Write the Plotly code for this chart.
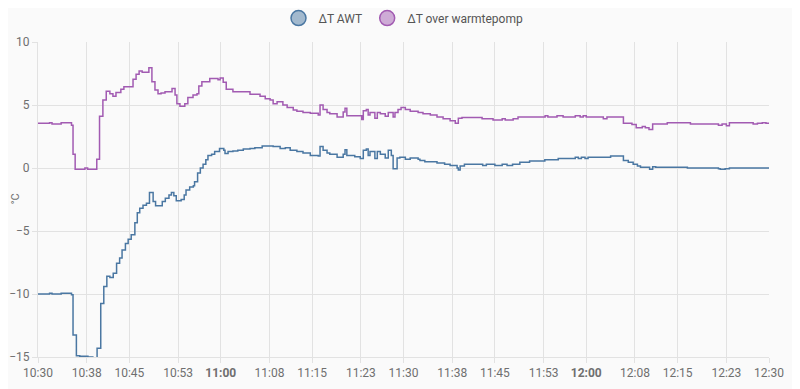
import pandas as pd
import plotly.graph_objects as go

start = pd.Timestamp("2024-01-01 10:30:00")

# minutes after 10:30 and values (°C)
awt_min = [0, 1.9, 2.3, 3.8, 5.5, 5.75, 6.3, 6.85, 8.2, 9.0, 9.7, 10.3, 10.8, 11.3, 11.8,
           12.35, 12.9, 13.4, 13.8, 14.35, 14.8, 15.3, 15.9, 16.3, 16.7, 17.24, 17.8, 18.3,
           18.9, 19.3, 20.4, 20.9, 21.5, 21.9, 22.3, 22.7, 23.5, 24.0, 24.3, 24.9, 25.5,
           25.7, 26.2, 26.65, 27.1, 27.55, 27.9, 28.5, 29.0, 29.8, 30.5, 30.7, 31.2, 32.0,
           32.8, 33.7, 34.8, 35.6, 36.8, 38.6, 39.75, 40.6, 41.4, 42.5, 43.5, 44.7, 46.0,
           46.3, 46.8, 47.45, 47.9, 49.1, 50.1, 50.4, 50.7, 52.0, 52.9, 53.4, 53.9, 54.2,
           54.5, 55.3, 55.7, 56.2, 57.0, 57.5, 58.0, 58.3, 58.95, 59.4, 60.3, 61.1, 62.4,
           62.7, 63.5, 65.5, 66.75, 67.65, 68.8, 69.0, 69.3, 70.0, 73.0, 73.6, 75.0, 76.2,
           77.0, 77.9, 79.1, 80.7, 83.2, 85.4, 88.2, 88.7, 89.2, 89.8, 90.3, 94.0, 96.1,
           96.9, 97.7, 98.4, 98.9, 100.4, 100.9, 101.4, 106.6, 111.7, 112.0, 112.8, 113.5, 120]
awt_val = [-10.0, -9.95, -10.0, -9.95, -10.05, -13.25, -14.9, -14.95, -15.0, -15.05, -14.3,
           -10.75, -9.4, -8.6, -8.7, -8.35, -7.55, -7.15, -6.5, -6.0, -5.65, -5.3, -4.35,
           -3.55, -3.2, -2.95, -2.8, -1.95, -2.65, -3.0, -2.65, -2.4, -2.15, -1.95, -2.2,
           -2.6, -2.5, -2.15, -1.75, -1.5, -1.4, -1.1, -0.4, 0.0, 0.3, 0.65, 1.0, 1.1, 1.3,
           1.55, 1.4, 1.15, 1.3, 1.35, 1.4, 1.5, 1.55, 1.6, 1.75, 1.7, 1.55, 1.6, 1.4, 1.3,
           1.2, 1.0, 0.95, 1.7, 1.4, 1.2, 1.1, 0.85, 1.1, 1.45, 1.0, 0.9, 0.75, 1.4, 1.5,
           1.0, 1.3, 0.75, 1.3, 1.1, 0.8, 1.4, 1.0, -0.05, 0.8, 0.85, 0.7, 0.8, 0.7, 0.6,
           0.5, 0.4, 0.3, 0.2, 0.0, -0.15, 0.15, 0.3, 0.2, 0.3, 0.2, 0.3, 0.2, 0.3, 0.45,
           0.55, 0.65, 0.75, 0.85, 0.75, 0.85, 0.75, 0.85, 0.95, 0.6, 0.45, 0.3, 0.15, 0.05,
           -0.1, 0.1, 0.05, 0.0, -0.05, -0.1, -0.05, 0.0, 0.0]

wp_min = [0, 1.9, 2.3, 3.8, 5.5, 5.75, 6.1, 7.7, 8.15, 9.65, 10.1, 10.65, 11.2, 11.8, 12.3,
          12.8, 13.6, 14.1, 15.6, 16.1, 16.6, 17.1, 18.2, 18.7, 19.2, 19.7, 20.2, 20.85,
          22.0, 22.5, 22.8, 23.3, 24.1, 24.6, 25.45, 26.1, 26.4, 26.9, 28.2, 29.55, 29.9,
          30.4, 30.9, 32.0, 34.8, 36.45, 37.3, 38.1, 38.6, 39.25, 40.2, 40.9, 41.9, 42.5,
          43.5, 44.7, 46.0, 46.3, 46.8, 47.45, 47.9, 49.1, 50.1, 50.4, 50.7, 53.15, 53.4,
          53.9, 54.2, 54.5, 55.3, 55.7, 56.2, 57.0, 57.5, 58.3, 58.6, 59.1, 59.6, 60.3,
          61.1, 62.4, 63.2, 64.4, 65.5, 66.5, 67.65, 68.5, 69.0, 69.6, 72.9, 74.7, 76.2,
          76.7, 78.0, 78.8, 83.25, 83.7, 85.2, 86.2, 88.2, 89.0, 89.5, 90.0, 92.8, 93.4,
          96.1, 97.5, 98.2, 99.2, 99.7, 100.3, 100.9, 103.3, 107.1, 111.7, 112.3, 113.0,
          113.5, 117.4, 118.1, 118.9, 119.5, 120]
wp_val = [3.55, 3.6, 3.5, 3.6, 3.4, 1.1, -0.1, 0.0, -0.1, 0.7, 4.1, 5.4, 6.1, 5.9, 5.7, 6.0,
          6.25, 6.45, 7.05, 7.45, 7.7, 7.6, 7.95, 6.85, 6.2, 5.9, 5.95, 6.05, 6.3, 5.8, 5.1,
          4.9, 5.1, 5.6, 5.8, 5.9, 6.5, 6.85, 7.1, 7.0, 7.15, 6.8, 6.25, 6.05, 5.85, 5.7,
          5.5, 5.4, 5.1, 5.25, 5.0, 4.8, 4.6, 4.5, 4.4, 4.35, 4.2, 5.0, 4.65, 4.4, 4.3,
          4.05, 4.45, 4.75, 4.15, 3.85, 4.55, 4.65, 4.2, 4.4, 3.95, 4.4, 4.3, 4.1, 4.4,
          4.05, 4.4, 4.65, 4.8, 4.65, 4.5, 4.4, 4.3, 4.2, 4.05, 3.9, 3.75, 3.55, 3.95, 4.0,
          3.9, 3.8, 3.9, 3.8, 3.9, 4.05, 4.15, 4.05, 4.15, 4.05, 4.15, 4.05, 4.15, 4.05,
          3.9, 4.05, 3.55, 3.45, 3.2, 3.3, 3.2, 3.05, 3.5, 3.6, 3.5, 3.4, 3.5, 3.35, 3.6,
          3.5, 3.55, 3.6, 3.55, 3.6]

tick_times = ["10:30", "10:38", "10:45", "10:53", "11:00", "11:08", "11:15", "11:23", "11:30",
              "11:38", "11:45", "11:53", "12:00", "12:08", "12:15", "12:23", "12:30"]
bold_ticks = ["11:00", "12:00"]

series = [
    ("ΔT AWT", awt_min, awt_val, "#4a77a2", "rgba(74,119,162,0.5)"),
    ("ΔT over warmtepomp", wp_min, wp_val, "#a25bb2", "rgba(162,91,178,0.5)"),
]

fig = go.Figure()
for name, mins, vals, col, fill in series:
    xs = [start + pd.Timedelta(minutes=m) for m in mins]
    fig.add_trace(go.Scatter(x=xs, y=vals, mode="lines", line=dict(color=col, width=1.5, shape="hv"),
                             name=name, legendgroup=name, showlegend=False, hoverinfo="skip"))
    fig.add_trace(go.Scatter(x=[None], y=[None], mode="markers", name=name, legendgroup=name,
                             marker=dict(size=15, color=fill, line=dict(color=col, width=1.5))))

tickvals = [pd.Timestamp("2024-01-01 " + t + ":00") for t in tick_times]
ticktext = ["<b>%s</b>" % t if t in bold_ticks else t for t in tick_times]

grid = "#e2e2e2"
# the page body adds an 8px offset, so the figure is 8px smaller on each origin side
fig.update_layout(
    width=792, height=381,
    margin=dict(l=30, r=31, t=34, b=32, autoexpand=False),
    paper_bgcolor="#fafafa", plot_bgcolor="#fafafa",
    font=dict(family="Roboto", size=12, color="#6f6f6f"),
    legend=dict(orientation="h", x=0.5, xanchor="center", y=1.076, yanchor="middle",
                font=dict(size=12, color="#555555"), itemsizing="trace", bgcolor="rgba(0,0,0,0)"),
    xaxis=dict(range=[tickvals[0], tickvals[-1]], tickvals=tickvals, ticktext=ticktext,
               showgrid=True, gridcolor=grid, showline=True, linecolor=grid,
               ticks="outside", ticklen=5, tickcolor=grid, zeroline=False, fixedrange=True,
               automargin=False),
    yaxis=dict(range=[-15, 10], tickvals=[-15, -10, -5, 0, 5, 10], showgrid=True, gridcolor=grid,
               showline=True, linecolor=grid, ticks="outside", ticklen=5, tickcolor=grid,
               zeroline=False, automargin=False),
    annotations=[dict(text="°C", xref="paper", yref="paper", x=0, y=0.5, xshift=-23,
                      xanchor="center", yanchor="middle", textangle=-90, showarrow=False,
                      font=dict(size=11, color="#6f6f6f"))],
    showlegend=True,
)

fig.write_html("out.html")
